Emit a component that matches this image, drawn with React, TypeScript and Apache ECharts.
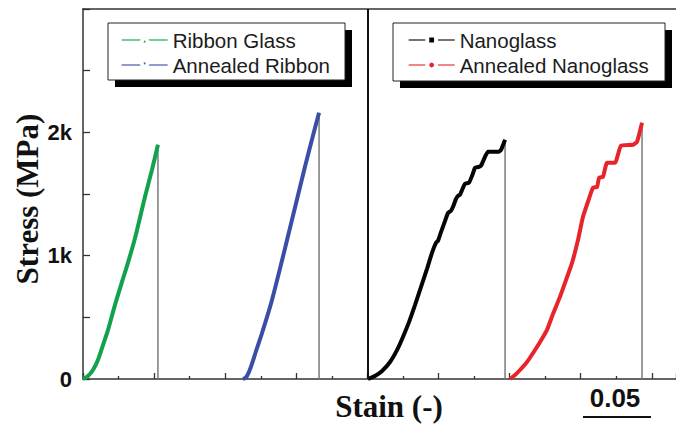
import React, { useEffect, useRef } from "react";
import * as echarts from "echarts";

// ---- data (strain [-], stress [MPa]) ----
const seriesNames = ["Ribbon Glass", "Annealed Ribbon", "Nanoglass", "Annealed Nanoglass"];
const seriesColors = ["#10a24c", "#3a4ea8", "#050505", "#e8242b"];
const seriesSymbols = ["triangle", "triangle", "rect", "circle"];
const seriesSymbolRotate = [0, 180, 0, 0];
const seriesSmooth = [0.3, 0.3, 0.15, 0.15];

const ribbonGlass = [
  [0, 0], [0.0035, 24], [0.007, 73], [0.0105, 154], [0.0141, 276], [0.0176, 398],
  [0.0225, 601], [0.0274, 787], [0.0316, 942], [0.0366, 1144], [0.0436, 1477],
  [0.0485, 1696], [0.0527, 1899],
];
const annealedRibbon = [
  [0.1125, 0], [0.1146, 12], [0.1167, 57], [0.1188, 122], [0.1217, 227], [0.1259, 373],
  [0.1329, 641], [0.1456, 1226], [0.1561, 1721], [0.1617, 1972], [0.166, 2159],
];
const nanoglass = [
  [0.2004, 0], [0.2053, 24], [0.2103, 65], [0.2159, 138], [0.2208, 234], [0.225, 341],
  [0.2293, 463], [0.2335, 601], [0.2377, 747], [0.2419, 893], [0.2454, 1023],
  [0.2482, 1104], [0.2496, 1120], [0.2518, 1193], [0.2546, 1282], [0.2567, 1347],
  [0.2588, 1364], [0.2602, 1396], [0.2623, 1461], [0.2637, 1485], [0.2651, 1494],
  [0.2672, 1550], [0.2686, 1583], [0.2714, 1591], [0.2736, 1648], [0.2757, 1713],
  [0.2785, 1721], [0.2799, 1729], [0.2827, 1802], [0.2848, 1843], [0.2925, 1843],
  [0.294, 1859], [0.2968, 1940],
];
const annealedNanoglass = [
  [0.3003, 0], [0.3038, 32], [0.3073, 73], [0.3122, 138], [0.3165, 211], [0.3214, 300],
  [0.3263, 398], [0.3305, 528], [0.3354, 666], [0.3397, 804], [0.3439, 942],
  [0.3481, 1128], [0.3516, 1315], [0.3551, 1437], [0.3586, 1550], [0.3615, 1558],
  [0.3629, 1632], [0.3657, 1640], [0.3685, 1753], [0.3741, 1753], [0.3783, 1891],
  [0.3868, 1899], [0.3896, 1924], [0.3931, 2078],
];
const curves = [ribbonGlass, annealedRibbon, nanoglass, annealedNanoglass];

const panelDivider = 0.2;
const xMax = 0.417;
const yMax = 3000;
const yTickLabels: Record<number, string> = { 0: "0", 1000: "1k", 2000: "2k" };
const scaleBarLabel = "0.05";
const xAxisTitle = "Stain (-)";
const yAxisTitle = "Stress (MPa)";

export default function App() {
  const ref = useRef<HTMLDivElement>(null);

  useEffect(() => {
    if (!ref.current) return;
    const chart = echarts.init(ref.current, undefined, { renderer: "svg" });

    const curveSeries = curves.map((data, i) => ({
      name: seriesNames[i],
      type: "line",
      data,
      symbol: seriesSymbols[i],
      symbolRotate: seriesSymbolRotate[i],
      showSymbol: false,
      smooth: seriesSmooth[i],
      color: seriesColors[i],
      lineStyle: { color: seriesColors[i], width: 4 },
      z: 3,
    }));

    const dropSeries = curves.map((data, i) => {
      const last = data[data.length - 1];
      return {
        name: "drop" + i,
        type: "line",
        data: [[last[0], last[1]], [last[0], 0]],
        showSymbol: false,
        symbol: "none",
        lineStyle: { color: "#7a7a7a", width: 1.5 },
        z: 2,
        ...(i === 0
          ? {
              markLine: {
                silent: true,
                symbol: ["none", "none"],
                label: { show: false },
                lineStyle: { color: "#111", width: 2, type: "solid" },
                data: [{ xAxis: panelDivider }],
              },
            }
          : {}),
      };
    });

    const legendCommon = {
      orient: "vertical",
      padding: 0,
      itemWidth: 46,
      itemHeight: 11,
      itemGap: 4,
      top: 29.5,
      selectedMode: false,
      textStyle: {
        fontFamily: "Liberation Sans, Arial, sans-serif",
        fontSize: 20.5,
        lineHeight: 21,
        color: "#1c1c1c",
      },
      lineStyle: { width: 1.3, opacity: 0.75 },
      itemStyle: { borderColor: "#fff", borderWidth: 4 },
      z: 5,
    };

    chart.setOption({
      animation: false,
      backgroundColor: "#fff",
      grid: { left: 83, top: 9, right: 0, bottom: 45 },
      xAxis: [
        {
          type: "value",
          min: 0,
          max: xMax,
          interval: 0.05,
          axisLine: { show: true, lineStyle: { color: "#333", width: 1.5 } },
          axisTick: { show: true, inside: true, length: 6, lineStyle: { color: "#333", width: 1.3 } },
          minorTick: { show: true, splitNumber: 2, length: 3, lineStyle: { color: "#333", width: 1.3 } },
          axisLabel: { show: false },
          splitLine: { show: false },
        },
        {
          type: "value",
          position: "top",
          min: 0,
          max: xMax,
          axisLine: { show: true, onZero: false, lineStyle: { color: "#333", width: 1.5 } },
          axisTick: { show: false },
          axisLabel: { show: false },
          splitLine: { show: false },
        },
      ],
      yAxis: {
        type: "value",
        min: 0,
        max: yMax,
        interval: 500,
        axisLine: { show: true, lineStyle: { color: "#333", width: 1.5 } },
        axisTick: { show: true, inside: true, length: 7, lineStyle: { color: "#333", width: 1.3 } },
        axisLabel: {
          margin: 11,
          fontFamily: "Liberation Sans, Arial, sans-serif",
          fontWeight: "bold",
          fontSize: 22,
          color: "#111",
          formatter: (v: number) => yTickLabels[v] ?? "",
        },
        splitLine: { show: false },
      },
      legend: [
        { ...legendCommon, left: 121, data: [seriesNames[0], seriesNames[1]] },
        { ...legendCommon, left: 408, data: [seriesNames[2], seriesNames[3]] },
      ],
      graphic: [
        { type: "rect", shape: { x: 115, y: 30, width: 237, height: 57 }, style: { fill: "#000" }, z: 3 },
        { type: "rect", shape: { x: 108, y: 23, width: 237, height: 57 }, style: { fill: "#fff", stroke: "#222", lineWidth: 1 }, z: 3.5 },
        { type: "rect", shape: { x: 400, y: 30, width: 272, height: 58 }, style: { fill: "#000" }, z: 3 },
        { type: "rect", shape: { x: 393, y: 23, width: 272, height: 58 }, style: { fill: "#fff", stroke: "#222", lineWidth: 1 }, z: 3.5 },
        {
          type: "text",
          x: 27.5,
          y: 199,
          rotation: Math.PI / 2,
          style: {
            text: yAxisTitle,
            fontFamily: "Liberation Serif, Times New Roman, serif",
            fontWeight: "bold",
            fontSize: 31,
            fill: "#111",
            align: "center",
            verticalAlign: "middle",
          },
        },
        {
          type: "text",
          x: 389,
          y: 406,
          style: {
            text: xAxisTitle,
            fontFamily: "Liberation Serif, Times New Roman, serif",
            fontWeight: "bold",
            fontSize: 31,
            fill: "#111",
            align: "center",
            verticalAlign: "middle",
          },
        },
        {
          type: "text",
          x: 615,
          y: 398,
          style: {
            text: scaleBarLabel,
            fontFamily: "Liberation Sans, Arial, sans-serif",
            fontWeight: "bold",
            fontSize: 26,
            fill: "#111",
            align: "center",
            verticalAlign: "middle",
          },
        },
        {
          type: "line",
          shape: { x1: 583, y1: 417, x2: 651, y2: 417 },
          style: { stroke: "#111", lineWidth: 2 },
        },
      ],
      series: [...dropSeries, ...curveSeries],
    });

    return () => chart.dispose();
  }, []);

  return (
    <div
      ref={ref}
      style={{ position: "absolute", left: 0, top: 0, width: 676, height: 424 }}
    />
  );
}
